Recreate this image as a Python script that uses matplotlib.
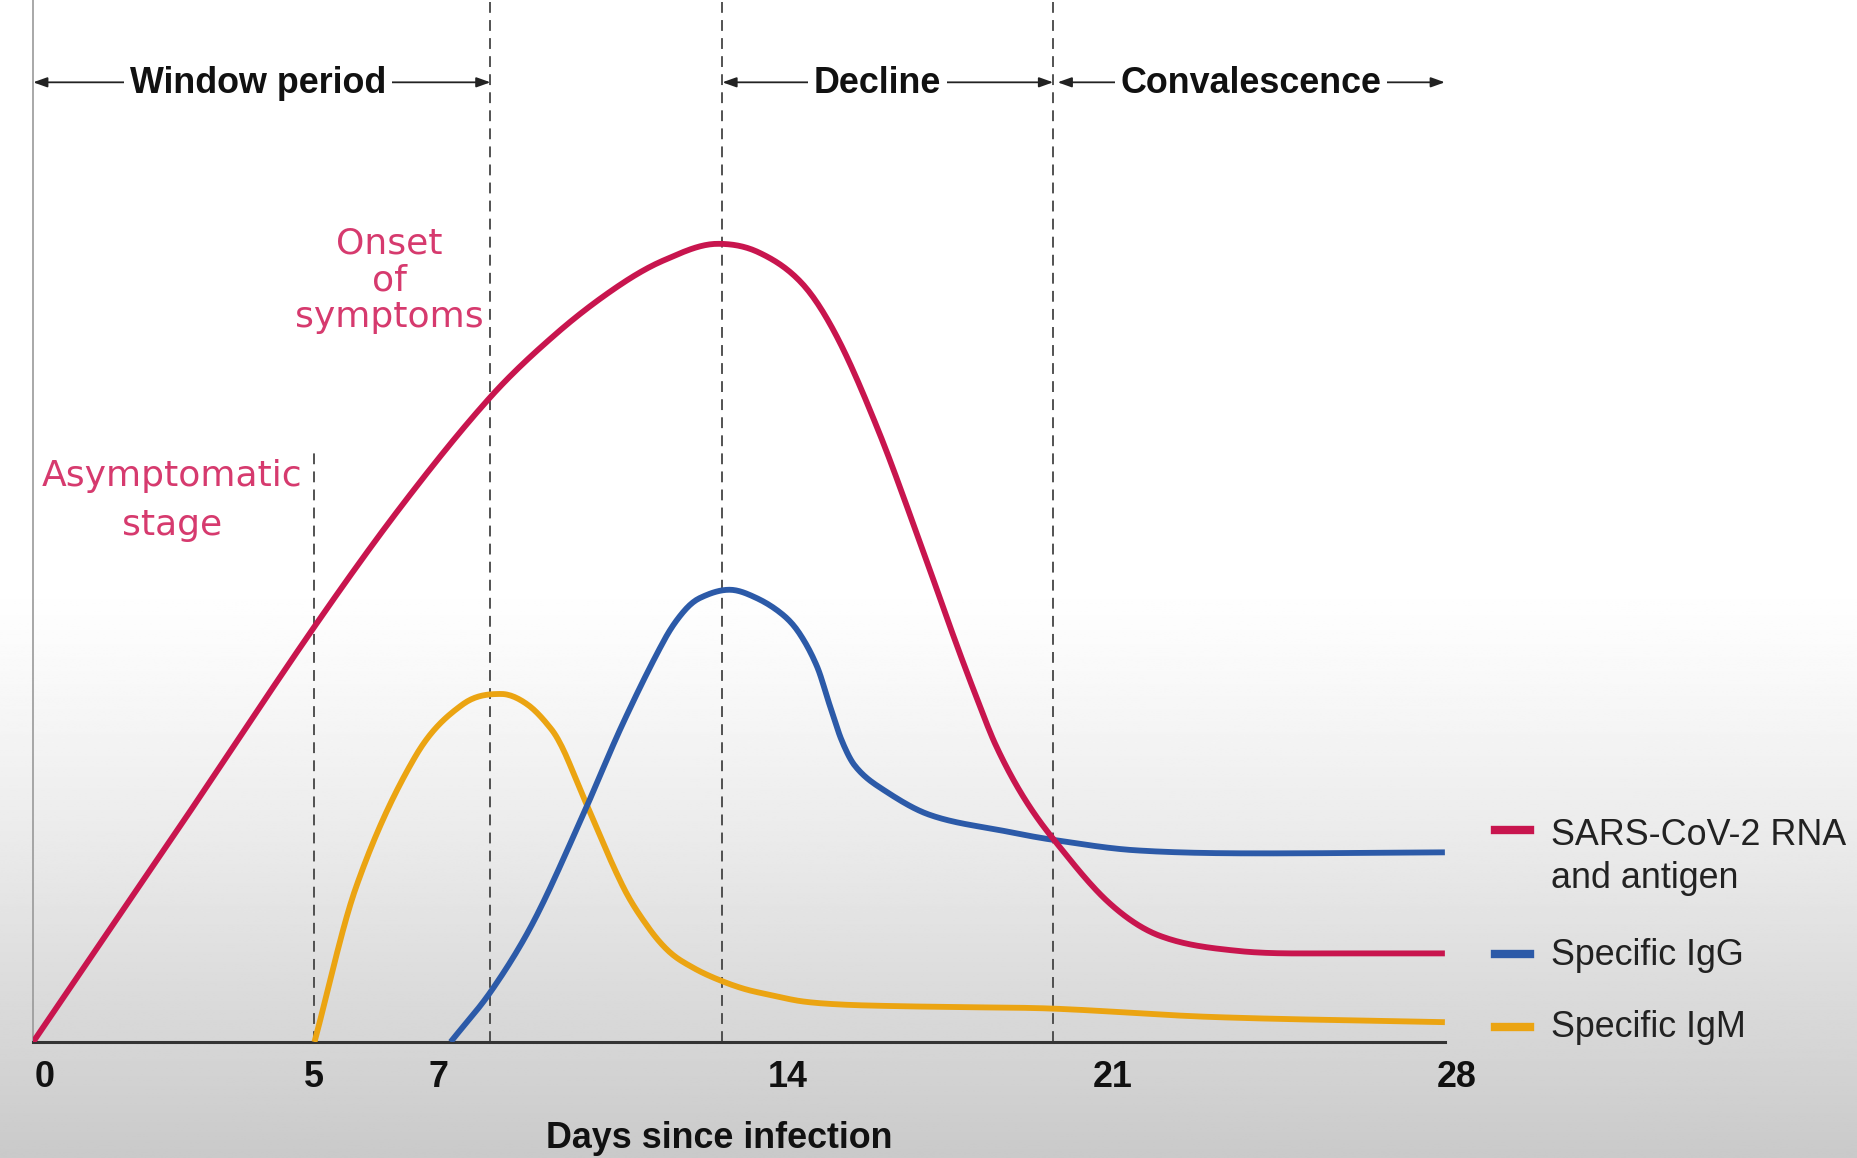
import numpy as np
import matplotlib
matplotlib.use("Agg")
import matplotlib.pyplot as plt

# ---- data (x in days, y in relative level 0-100) ----
rna_days = [0, 2.87, 5.57, 7.33, 9.07, 10.38, 11.56, 12.50, 13.58, 14.38,
            15.25, 15.95, 16.77, 17.57, 18.28, 18.70, 19.10, 19.63, 20.23,
            21.33, 22.34, 23.87, 25.65, 28.0]
rna_level = [0, 20.4, 39.8, 51.6, 61.9, 68.0, 72.4, 75.0, 76.6, 75.8,
             72.8, 67.6, 58.6, 48.2, 38.6, 33.2, 28.4, 23.6, 19.5,
             13.4, 10.2, 8.75, 8.5, 8.5]

igg_days = [8.28, 9.10, 9.93, 10.87, 11.69, 12.52, 12.90, 13.22, 13.81,
            14.35, 14.87, 15.20, 15.55, 15.80, 16.04, 16.30, 16.77, 17.78,
            19.31, 20.23, 21.85, 24.38, 28.0]
igg_level = [0, 5.0, 11.6, 21.4, 30.5, 38.6, 41.3, 42.6, 43.4,
             42.6, 41.0, 39.2, 36.0, 32.3, 28.9, 26.5, 24.5, 21.8,
             20.2, 19.4, 18.4, 18.1, 18.2]

igm_days = [5.58, 6.40, 7.58, 8.52, 9.28, 9.80, 10.28, 10.52, 10.87, 11.69,
            12.20, 12.63, 13.10, 13.58, 14.10, 14.63, 15.25, 16.0, 17.0,
            18.28, 20.23, 23.37, 28.0]
igm_level = [0, 14.8, 27.4, 32.4, 33.4, 32.4, 30.0, 28.0, 24.0, 15.0,
             11.0, 8.6, 7.1, 6.0, 5.1, 4.5, 3.9, 3.6, 3.45,
             3.35, 3.2, 2.4, 1.9]

tick_days = [0.23, 5.57, 8.03, 14.96, 21.42, 28.24]
tick_labels = ["0", "5", "7", "14", "21", "28"]

# stage boundaries (dashed lines) and the phases drawn along the top
boundaries = [5.57, 9.07, 13.67, 20.23]
phases = ["Window period", "Decline", "Convalescence"]
phase_spans = [(0, 9.07), (13.67, 20.23), (20.32, 28.0)]
phase_centers = [4.46, 16.75, 24.15]

series_names = ["SARS-CoV-2 RNA\nand antigen", "Specific IgG", "Specific IgM"]
series_colors = ["#c8154e", "#2c5aa8", "#eba412"]
pink = "#d63a6e"


def smooth(x, y, n=600):
    """Cubic Hermite curve through the read points (flat at local peaks)."""
    x = np.asarray(x, float)
    y = np.asarray(y, float)
    h = np.diff(x)
    d = np.diff(y) / h
    m = np.zeros_like(y)
    m[0], m[-1] = d[0], d[-1]
    for k in range(1, len(x) - 1):
        if d[k - 1] * d[k] > 0:
            m[k] = (y[k + 1] - y[k - 1]) / (x[k + 1] - x[k - 1])
    xs = np.linspace(x[0], x[-1], n)
    idx = np.clip(np.searchsorted(x, xs) - 1, 0, len(x) - 2)
    t = (xs - x[idx]) / h[idx]
    h00 = 2 * t**3 - 3 * t**2 + 1
    h10 = t**3 - 2 * t**2 + t
    h01 = -2 * t**3 + 3 * t**2
    h11 = t**3 - t**2
    ys = (h00 * y[idx] + h10 * h[idx] * m[idx]
          + h01 * y[idx + 1] + h11 * h[idx] * m[idx + 1])
    return xs, ys


fig = plt.figure(figsize=(18.57, 11.58), dpi=100)

# grey gradient background: white at top, light grey at the bottom
bg = fig.add_axes([0, 0, 1, 1], zorder=-10)
rows = np.linspace(0, 1, 600)
shade = np.where(rows < 0.5, 1.0, 1.0 - 0.21 * ((rows - 0.5) / 0.5) ** 1.2)
bg.imshow(np.tile(shade[:, None], (1, 4)), cmap="gray", vmin=0, vmax=1,
          aspect="auto", extent=[0, 1, 1, 0])
bg.axis("off")

ax = fig.add_axes([0.01786, 0.1002, 0.7765, 0.8998])
ax.patch.set_alpha(0)
ax.set_xlim(0, 28.6)
ax.set_ylim(0, 100)

# curves
for xd, yd, c in [(igm_days, igm_level, series_colors[2]),
                  (igg_days, igg_level, series_colors[1]),
                  (rna_days, rna_level, series_colors[0])]:
    xs, ys = smooth(xd, yd)
    ax.plot(xs, ys, color=c, lw=4.2, solid_capstyle="butt", zorder=3)

# dashed stage boundaries
ax.axvline(boundaries[0], ymin=0, ymax=0.568, color="#444", lw=1.3,
           ls=(0, (6, 4)), zorder=2)
for b in boundaries[1:]:
    ax.axvline(b, color="#444", lw=1.3, ls=(0, (6, 4)), zorder=2)

# phase arrows along the top
arrow_y = 92.1
for name, (x0, x1), xc in zip(phases, phase_spans, phase_centers):
    ax.annotate("", xy=(x1, arrow_y), xytext=(x0, arrow_y),
                arrowprops=dict(arrowstyle="<|-|>,head_length=0.7,head_width=0.25",
                                color="#222", lw=1.3, shrinkA=0, shrinkB=0,
                                mutation_scale=12), zorder=4)
    ax.text(xc, arrow_y + 0.25, name, ha="center", va="center_baseline",
            fontsize=25.8, fontweight="bold", family="Liberation Sans",
            color="#111", bbox=dict(fc="white", ec="none", pad=4), zorder=5)

# stage labels
ax.text(2.75, 52.0, "Asymptomatic\nstage", ha="center", va="center",
        fontsize=26, color=pink, family="DejaVu Sans", linespacing=1.55)
ax.text(7.07, 73.1, "Onset\nof\nsymptoms", ha="center", va="center",
        fontsize=26, color=pink, family="DejaVu Sans", linespacing=1.1)

# axes styling
for s in ["top", "right"]:
    ax.spines[s].set_visible(False)
ax.spines["bottom"].set_bounds(0, 28)
ax.spines["bottom"].set_color("#333")
ax.spines["bottom"].set_linewidth(2.2)
ax.spines["left"].set_color("#999")
ax.spines["left"].set_linewidth(1.2)
ax.set_yticks([])
ax.set_xticks(tick_days, tick_labels)
ax.tick_params(axis="x", length=0, pad=13)
for lab in ax.get_xticklabels():
    lab.set_fontsize(25.8)
    lab.set_fontweight("bold")
    lab.set_family("Liberation Sans")
    lab.set_color("#111")
ax.set_xlabel("Days since infection", fontsize=25.8, fontweight="bold",
              family="Liberation Sans", color="#111", va="center")
ax.xaxis.set_label_coords(0.476, -0.0923)

# legend keys at the right
key_y = [0.2831, 0.1765, 0.1128]
text_y = [0.260, 0.175, 0.1125]
for name, c, ky, ty in zip(series_names, series_colors, key_y, text_y):
    fig.add_artist(plt.Line2D([0.8048, 0.8241], [ky, ky], color=c, lw=6,
                              transform=fig.transFigure))
    fig.text(0.8353, ty, name, ha="left", va="center", fontsize=25.8,
             family="Liberation Sans", color="#222", linespacing=1.3)

fig.savefig("out.png", dpi=100)
